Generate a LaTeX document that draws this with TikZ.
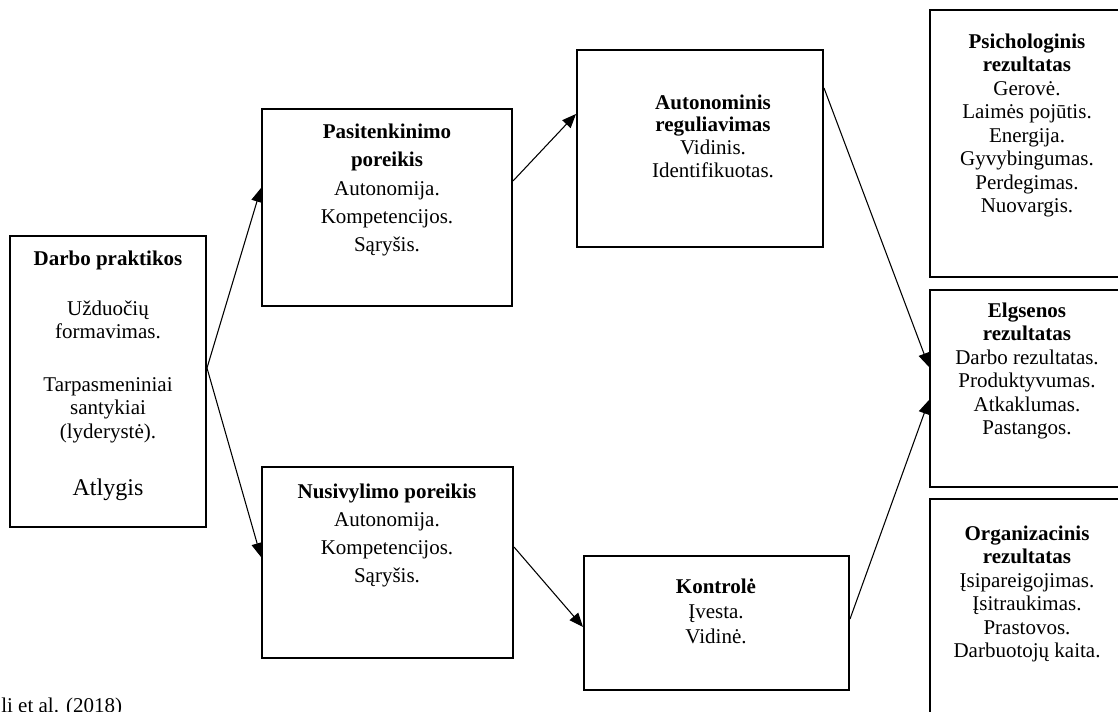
\documentclass[tikz,border=0pt]{standalone}
\usepackage{fontspec}
\setmainfont{Liberation Serif}
\usetikzlibrary{arrows.meta,fit}
\newcommand\setfs[1]{\fontsize{15.75}{#1}\selectfont}
\begin{document}
\begin{tikzpicture}[x=0.75pt,y=-0.75pt,
  box/.style={draw, line width=1.5pt, inner sep=0pt},
  txt/.style={align=center, inner sep=0pt},
  conn/.style={line width=0.8pt, -{Triangle[length=10.5pt,width=8.5pt]}}]
\fill[white] (0,0) rectangle (1118,712);
\useasboundingbox (0,0) rectangle (1118,712);

% boxes
\node[box, fit={(10,236) (206,527)}] (dar) {};
\node[box, fit={(262,109) (512,306)}] (pas) {};
\node[box, fit={(262,467) (513,658)}] (nus) {};
\node[box, fit={(577,50) (823,247)}] (aut) {};
\node[box, fit={(584,556) (849,690)}] (kon) {};
\node[box, fit={(930,10) (1125,277)}] (psy) {};
\node[box, fit={(930,290) (1125,487)}] (elg) {};
\node[box, fit={(930,499) (1125,725)}] (org) {};

% texts
\node[txt, font=\setfs{17.6}] (dt1) at (108,260) {\textbf{Darbo praktikos}};
\node[txt, font=\setfs{17.6}] (dt2) at (108,320) {Užduočių\\formavimas.};
\node[txt, font=\setfs{17.6}] (dt3) at (108,410) {Tarpasmeniniai\\santykiai\\(lyderystė).};
\node[txt, font=\fontsize{18}{20}\selectfont] (dt4) at (108,490) {Atlygis};

\node[txt, font=\setfs{21.2}] (past) at (387,190) {\textbf{Pasitenkinimo}\\\textbf{poreikis}\\Autonomija.\\Kompetencijos.\\Sąryšis.};
\node[txt, font=\setfs{21}] (nust) at (387,535) {\textbf{Nusivylimo poreikis}\\Autonomija.\\Kompetencijos.\\Sąryšis.};
\node[txt, font=\setfs{17}] (autt) at (713,136) {\textbf{Autonominis}\\\textbf{reguliavimas}\\Vidinis.\\Identifikuotas.};
\node[txt, font=\setfs{19}] (kont) at (716,611.5) {\textbf{Kontrolė}\\Įvesta.\\Vidinė.};
\node[txt, font=\setfs{17.6}] (psyt) at (1027,125.5) {\textbf{Psichologinis}\\\textbf{rezultatas}\\Gerovė.\\Laimės pojūtis.\\Energija.\\Gyvybingumas.\\Perdegimas.\\Nuovargis.};
\node[txt, font=\setfs{17.6}] (elgt) at (1027,371) {\textbf{Elgsenos}\\\textbf{rezultatas}\\Darbo rezultatas.\\Produktyvumas.\\Atkaklumas.\\Pastangos.};
\node[txt, font=\setfs{17.6}] (orgt) at (1027,594) {\textbf{Organizacinis}\\\textbf{rezultatas}\\Įsipareigojimas.\\Įsitraukimas.\\Prastovos.\\Darbuotojų kaita.};

\node[anchor=base west, inner sep=0pt, font=\setfs{17.6}] (src) at (1,712) {li et al. (2018)};

% connectors
\draw[conn] (dar.east |- 0,368) -- (pas.west |- 0,188);
\draw[conn] (dar.east |- 0,368) -- (nus.west |- 0,557);
\draw[conn] (pas.east |- 0,181) -- (aut.west |- 0,114);
\draw[conn] (nus.east |- 0,547) -- (kon.west |- 0,627);
\draw[conn] (aut.east |- 0,88) -- (elg.west |- 0,367);
\draw[conn] (kon.east |- 0,619) -- (elg.west |- 0,400);
\end{tikzpicture}
\end{document}
